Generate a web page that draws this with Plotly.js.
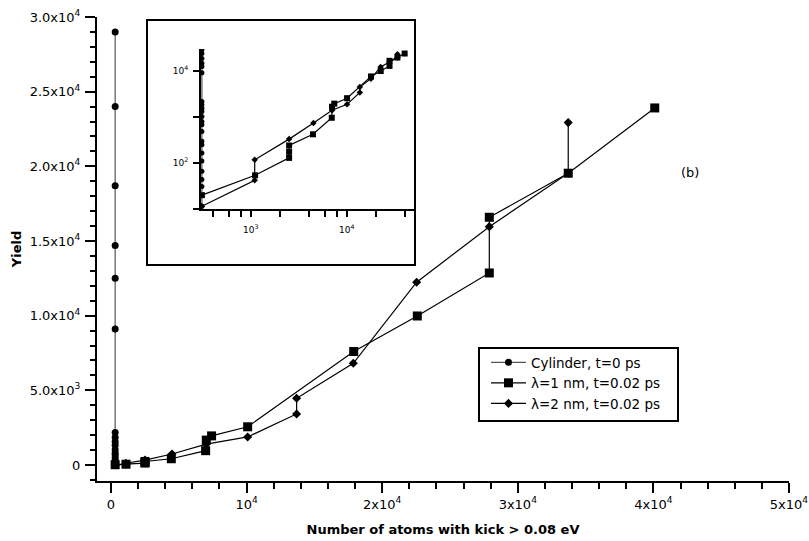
<!DOCTYPE html>
<html><head><meta charset="utf-8">
<script src="https://cdn.plot.ly/plotly-3.0.1.min.js"></script>
<style>body{margin:0;background:#fff}#c{width:809px;height:541px}</style>
</head><body><div id="c"></div>
<script>
// Cylinder, t=0 ps
const cylX = [310,310,310,310,310,310,310,310,310,310,310,310,310,310,310,310,310,310,310,310,310,310,310];
const cylY = [0,11.5,31,44,66,110,165,250,295,485,680,800,1020,1320,1550,1840,2170,9100,12500,14700,18700,24000,29000];
// lambda = 1 nm, t = 0.02 ps
const l1X = [310,1110,2510,2510,2510,4450,6980,7030,7420,10080,17900,22590,27900,27900,33720,40100];
const l1Y = [20,54,129,175,240,420,960,1670,1950,2560,7600,9980,12860,16590,19540,23910];
// lambda = 2 nm, t = 0.02 ps
const l2X = [310,1100,1100,2510,4500,7030,10080,13690,13690,17870,22540,27900,33720,33720];
const l2Y = [11.5,42,117,330,740,1400,1880,3420,4470,6810,12240,15960,19540,22930];
// tick labels
const xTickVals = [0,10000,20000,30000,40000,50000];
const xTickText = ["0","10<sup>4</sup>","2x10<sup>4</sup>","3x10<sup>4</sup>","4x10<sup>4</sup>","5x10<sup>4</sup>"];
const yTickVals = [0,5000,10000,15000,20000,25000,30000];
const yTickText = ["0","5.0x10<sup>3</sup>","1.0x10<sup>4</sup>","1.5x10<sup>4</sup>","2.0x10<sup>4</sup>","2.5x10<sup>4</sup>","3.0x10<sup>4</sup>"];
const inXTickVals = [400,600,800,1000,2000,4000,6000,8000,10000,20000,40000];
const inXTickText = ["","","","10<sup>3</sup>","","","","","10<sup>4</sup>","",""];
const inYTickVals = [10,100,1000,10000];
const inYTickText = ["","10<sup>2</sup>","","10<sup>4</sup>"];
const names = ["Cylinder, t=0 ps","λ=1 nm, t=0.02 ps","λ=2 nm, t=0.02 ps"];

const F = "DejaVu Sans, sans-serif";
function tr(x,y,name,sym,size,lc,xa,ya,show){
  return {x:x,y:y,name:name,type:'scatter',mode:'lines+markers',
    line:{color:lc,width:1.2},marker:{symbol:sym,size:size,color:'#000'},
    xaxis:xa,yaxis:ya,showlegend:show,cliponaxis:true};
}
const data = [
  tr(cylX,cylY,names[0],'circle',7,'#555','x','y',true),
  tr(l1X,l1Y,names[1],'square',9,'#000','x','y',true),
  tr(l2X,l2Y,names[2],'diamond',7,'#000','x','y',true),
  tr(cylX,cylY,names[0],'circle',5,'#555','x2','y2',false),
  tr(l1X,l1Y,names[1],'square',6,'#000','x2','y2',false),
  tr(l2X,l2Y,names[2],'diamond',5,'#000','x2','y2',false)
];
const px = v => (v-97)/692, py = v => (481-v)/464;
const layout = {
  width:809,height:541,
  margin:{l:97,r:20,t:17,b:60},
  paper_bgcolor:'#fff',plot_bgcolor:'#fff',
  font:{family:F,size:13,color:'#000'},
  showlegend:true,
  legend:{x:px(486),y:py(347),xanchor:'left',yanchor:'top',borderwidth:0,itemwidth:35,
    bgcolor:'rgba(0,0,0,0)',font:{family:F,size:13.5,color:'#000'},tracegroupgap:0},
  xaxis:{domain:[0,1],range:[-1030,50000],showgrid:false,zeroline:false,showline:true,linecolor:'#000',linewidth:2,
    ticks:'outside',ticklen:10,tickwidth:2,tickcolor:'#000',tickmode:'array',tickvals:xTickVals,ticktext:xTickText,
    ticklabelstandoff:0,
    minor:{ticks:'outside',tick0:0,dtick:2000,ticklen:6,tickwidth:2,tickcolor:'#000'},
    tickfont:{family:F,size:13},
    title:{text:'<b>Number of atoms with kick > 0.08 eV</b>',font:{family:F,size:13},standoff:14}},
  yaxis:{domain:[0,1],range:[-1070,30000],showgrid:false,zeroline:false,showline:true,linecolor:'#000',linewidth:2,
    ticks:'outside',ticklen:10,tickwidth:2,tickcolor:'#000',tickmode:'array',tickvals:yTickVals,ticktext:yTickText,
    ticklabelstandoff:2,
    minor:{ticks:'outside',tick0:0,dtick:1000,ticklen:5,tickwidth:2,tickcolor:'#000'},
    tickfont:{family:F,size:13},
    title:{text:'<b>Yield</b>',font:{family:F,size:13},standoff:5}},
  xaxis2:{domain:[px(201),px(415)],anchor:'y2',type:'log',range:[2.482,4.711],showgrid:false,zeroline:false,
    showline:true,linecolor:'#000',linewidth:2,ticks:'outside',ticklen:6,tickwidth:2,tickcolor:'#000',
    ticklabelstandoff:5,
    tickmode:'array',tickvals:inXTickVals,ticktext:inXTickText,tickfont:{family:F,size:9}},
  yaxis2:{domain:[py(209),py(49)],anchor:'x2',type:'log',range:[1.0,4.477],showgrid:false,zeroline:false,
    showline:true,linecolor:'#000',linewidth:2,ticks:'outside',ticklen:6,tickwidth:2,tickcolor:'#000',
    ticklabelstandoff:3,
    tickmode:'array',tickvals:inYTickVals,ticktext:inYTickText,tickfont:{family:F,size:9}},
  shapes:[
    {type:'rect',xref:'paper',yref:'paper',x0:px(147),x1:px(415),y0:py(265),y1:py(20),
     line:{color:'#000',width:2},fillcolor:'rgba(0,0,0,0)',layer:'above'},
    {type:'rect',xref:'paper',yref:'paper',x0:px(479),x1:px(678),y0:py(421),y1:py(348),
     line:{color:'#000',width:2},fillcolor:'rgba(0,0,0,0)',layer:'above'}
  ],
  annotations:[{xref:'paper',yref:'paper',x:px(690),y:py(173),text:'(b)',showarrow:false,
    font:{family:F,size:13,color:'#000'},xanchor:'center',yanchor:'middle'}]
};
Plotly.newPlot('c',data,layout,{displayModeBar:false,staticPlot:true});
</script></body></html>
